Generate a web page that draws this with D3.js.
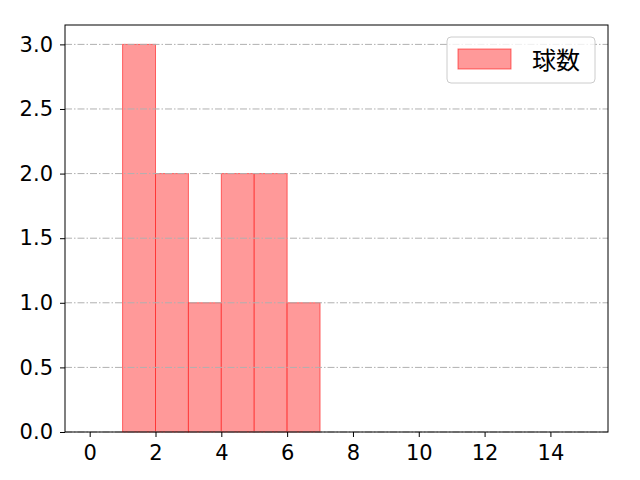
<!DOCTYPE html>
<html lang="ja">
<head>
<meta charset="UTF-8">
<title>球数</title>
<script src="https://d3js.org/d3.v7.min.js"></script>
<style>
  body { margin: 0; background: #fff; }
  svg text { font-family: "Noto Sans CJK JP", sans-serif; }
  .tick text { font-family: "DejaVu Sans", sans-serif; font-size: 21px; }
</style>
</head>
<body>
<div id="chart"></div>
<script>
// histogram bins (left edge) and counts
const binStarts = [0, 1, 2, 3, 4, 5, 6, 7, 8, 9, 10, 11, 12, 13, 14];
const counts    = [0, 3, 2, 1, 2, 2, 1, 0, 0, 0, 0, 0, 0, 0, 0];
const xTicks = [0, 2, 4, 6, 8, 10, 12, 14];
const yTicks = [0, 0.5, 1.0, 1.5, 2.0, 2.5, 3.0];
const seriesName = "球数";

const W = 640, H = 480;
const margin = { top: 25, right: 32, bottom: 48, left: 65 };
const width = W - margin.left - margin.right;
const height = H - margin.top - margin.bottom;

const svg = d3.select("#chart").append("svg")
    .attr("width", W).attr("height", H);
const g = svg.append("g")
    .attr("transform", `translate(${margin.left},${margin.top})`);

const x = d3.scaleLinear().domain([-0.75, 15.75]).range([0, width]);
const y = d3.scaleLinear().domain([0, 3.15]).range([height, 0]);

// bars
g.selectAll("rect.bar")
    .data(binStarts.map((b, i) => ({ x0: b, x1: b + 1, v: counts[i] })))
    .enter().append("rect")
    .attr("class", "bar")
    .attr("x", d => x(d.x0))
    .attr("width", d => x(d.x1) - x(d.x0))
    .attr("y", d => y(d.v))
    .attr("height", d => y(0) - y(d.v))
    .attr("fill", "#ff9999")
    .attr("stroke", "rgba(255,0,0,0.55)")
    .attr("stroke-width", 1);

// horizontal grid (drawn above bars)
g.selectAll("line.grid")
    .data(yTicks)
    .enter().append("line")
    .attr("class", "grid")
    .attr("x1", 0).attr("x2", width)
    .attr("y1", d => y(d)).attr("y2", d => y(d))
    .attr("stroke", "#b0b0b0")
    .attr("stroke-width", 1)
    .attr("stroke-dasharray", "7,2,1.5,2");

// axes
const xAxis = g.append("g")
    .attr("transform", `translate(0,${height})`)
    .call(d3.axisBottom(x).tickValues(xTicks).tickSize(5).tickPadding(8).tickFormat(d3.format("d")));
const yAxis = g.append("g")
    .call(d3.axisLeft(y).tickValues(yTicks).tickSize(5).tickPadding(7).tickFormat(d3.format(".1f")));

[xAxis, yAxis].forEach(a => {
    a.select(".domain").remove();
    a.attr("font-size", null).attr("font-family", null);
    a.selectAll("text").attr("fill", "#000");
    a.selectAll("line").attr("stroke", "#000");
});

// frame
g.append("rect")
    .attr("x", 0).attr("y", 0)
    .attr("width", width).attr("height", height)
    .attr("fill", "none")
    .attr("stroke", "#000")
    .attr("stroke-width", 1);

// legend
const lg = g.append("g").attr("transform", `translate(${width - 161},${12})`);
lg.append("rect")
    .attr("width", 148).attr("height", 46)
    .attr("rx", 4)
    .attr("fill", "#fff").attr("fill-opacity", 0.8)
    .attr("stroke", "#cccccc");
lg.append("rect")
    .attr("x", 11).attr("y", 12)
    .attr("width", 53).attr("height", 20)
    .attr("fill", "#ff9999")
    .attr("stroke", "rgba(255,0,0,0.55)");
lg.append("text")
    .attr("x", 85).attr("y", 32)
    .style("font-size", "24px")
    .attr("fill", "#000")
    .text(seriesName);
</script>
</body>
</html>
